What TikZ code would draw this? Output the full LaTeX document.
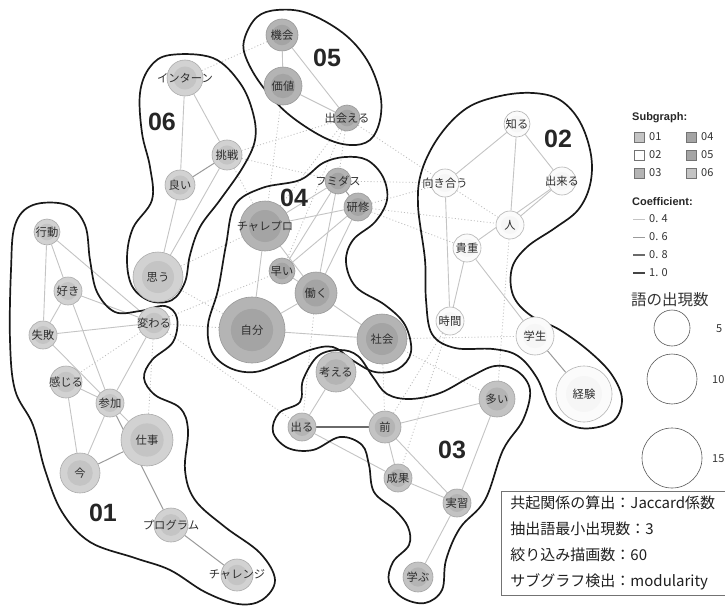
\documentclass[tikz,border=0pt]{standalone}
\usepackage{fontspec}
\setmainfont{Liberation Sans}
\newfontfamily\jp{Noto Sans CJK JP}
\pgfdeclarelayer{bgl}
\pgfdeclarelayer{edges}
\pgfsetlayers{bgl,edges,main}
\definecolor{gAout}{HTML}{D2D2D2}\definecolor{gAin}{HTML}{C4C4C4}\definecolor{gAbd}{HTML}{ABABAB}
\definecolor{gBout}{HTML}{FBFBFB}\definecolor{gBin}{HTML}{F6F6F6}\definecolor{gBbd}{HTML}{B4B4B4}
\definecolor{gCout}{HTML}{C3C3C3}\definecolor{gCin}{HTML}{B4B4B4}\definecolor{gCbd}{HTML}{A3A3A3}
\definecolor{gDout}{HTML}{B4B4B4}\definecolor{gDin}{HTML}{A4A4A4}\definecolor{gDbd}{HTML}{999999}
\definecolor{cA}{HTML}{C4C4C4}\definecolor{cB}{HTML}{9A9A9A}\definecolor{cC}{HTML}{6A6A6A}\definecolor{cD}{HTML}{444444}
\definecolor{dotc}{HTML}{BDBDBD}
\newcommand\WNode[6]{%
  \node[wnode=#5, minimum size={2*#4pt}] (#1) at (#2,#3) {};
  \fill[#5in] (#1.center) circle[radius={0.64*#4pt}];
  \node[lab] (#1-t) at (#1.center) {#6};
}
\tikzset{
  wnode/.style={circle, draw=#1bd, fill=#1out, line width=0.6pt, inner sep=0pt},
  lab/.style={font=\jp\fontsize{11.3}{12}\selectfont, text=black!82, inner sep=0pt},
  eA/.style={draw=cA, line width=0.9pt},
  eB/.style={draw=cB, line width=1.0pt},
  eC/.style={draw=cC, line width=1.4pt},
  dt/.style={draw=dotc, line width=0.8pt, dash pattern=on 1pt off 2.2pt},
  blob/.style={draw=black!90, line width=1.7pt},
  gnum/.style={font=\bfseries\fontsize{25}{25}\selectfont, text=black!85, inner sep=0pt},
  sq/.style={draw=black!55, line width=0.5pt, minimum size=10pt, inner sep=0pt},
  leg/.style={font=\jp\fontsize{11}{11}\selectfont, text=black!80, inner sep=0pt, anchor=west},
  legh/.style={font=\bfseries\fontsize{11}{11}\selectfont, text=black!85, inner sep=0pt, anchor=west},
  szc/.style={circle, draw=black!65, line width=0.6pt, inner sep=0pt},
}
\begin{document}
\begin{tikzpicture}[x=1pt,y=-1pt]
\useasboundingbox (0,0) rectangle (725,607);
\begin{pgfonlayer}{bgl}
\fill[white] (0,0) rectangle (725,607);
\end{pgfonlayer}

% ---------- blobs ----------
\draw[blob] plot[smooth cycle, tension=0.6] coordinates {
 (245,37) (257,17) (277,10) (307,13) (343,33) (367,60) (380,93) (380,120)
 (370,140) (350,145) (323,137) (287,113) (260,83) (245,55)};
\draw[blob] plot[smooth cycle, tension=0.6] coordinates {
 (170,55) (213,58) (240,83) (253,113) (255,140) (243,167) (220,200) (200,227)
 (190,255) (185,282) (172,300) (150,301) (132,286) (127,258) (133,228) (152,200)
 (150,167) (142,133) (140,93) (150,67)};
\draw[blob] plot[smooth cycle, tension=0.6] coordinates {
 (323,163) (345,157) (367,160) (383,177) (387,200) (375,222) (353,240) (346,262)
 (356,287) (385,305) (405,325) (411,352) (398,369) (375,372) (352,360) (333,347)
 (310,350) (283,362) (255,372) (230,368) (212,352) (208,325) (218,290) (226,245)
 (235,205) (262,188) (300,180)};
\draw[blob] plot[smooth cycle, tension=0.6] coordinates {
 (467,108) (500,96) (533,93) (560,100) (580,122) (591,155) (590,185) (578,210)
 (555,228) (527,247) (512,268) (513,295) (530,315) (560,330) (590,352) (612,375)
 (622,400) (612,422) (580,428) (553,412) (537,378) (518,356) (493,349) (455,348)
 (432,334) (426,300) (425,260) (418,205) (422,170) (440,135)};
\draw[blob] plot[smooth cycle, tension=0.6] coordinates {
 (33,205) (67,205) (85,225) (90,260) (97,292) (115,312) (140,311) (165,306)
 (177,318) (173,342) (152,360) (144,378) (155,395) (180,408) (188,430) (185,470)
 (195,500) (225,527) (260,553) (275,580) (262,600) (238,604) (205,592) (170,570)
 (135,558) (90,542) (62,512) (45,470) (33,425) (15,390) (10,340) (11,270) (15,225)};
\draw[blob] plot[smooth cycle, tension=0.6] coordinates {
 (318,356) (340,350) (358,356) (373,377) (387,394) (410,399) (440,393) (470,377)
 (495,366) (517,371) (530,390) (523,420) (503,450) (485,500) (460,528) (446,560)
 (442,590) (425,603) (403,598) (389,582) (393,562) (409,545) (408,527) (395,510)
 (374,492) (369,465) (362,445) (340,437) (313,450) (288,448) (273,432) (279,413)
 (300,402) (303,380)};

% ---------- group numbers ----------
\node[gnum] (n05) at (327,58) {05};
\node[gnum] (n06) at (162,122) {06};
\node[gnum] (n04) at (294,198) {04};
\node[gnum] (n02) at (558,139) {02};
\node[gnum] (n01) at (103,513) {01};
\node[gnum] (n03) at (452,450) {03};

% ---------- nodes ----------
% 05
\WNode{kikai}{282}{35}{16}{gD}{機会}
\WNode{kachi}{283}{86}{19}{gD}{価値}
\WNode{deaeru}{347}{118}{13}{gD}{出会える}
% 06
\WNode{intern}{185}{78}{18}{gA}{インターン}
\WNode{chosen}{227}{155}{15}{gA}{挑戦}
\WNode{yoi}{180}{185}{15}{gA}{良い}
\WNode{omou}{158}{277}{25}{gA}{思う}
% 04
\WNode{fumidas}{338}{181}{13}{gD}{フミダス}
\WNode{kenshu}{358}{207}{14}{gD}{研修}
\WNode{charepro}{265}{226}{25}{gD}{チャレプロ}
\WNode{hayai}{282}{271}{13}{gD}{早い}
\WNode{hataraku}{316}{293}{21}{gD}{働く}
\WNode{jibun}{252}{330}{33}{gD}{自分}
\WNode{shakai}{382}{339}{25}{gD}{社会}
% 02
\WNode{shiru}{517}{124}{13}{gB}{知る}
\WNode{dekiru}{562}{181}{14}{gB}{出来る}
\WNode{mukiau}{445}{183}{14}{gB}{向き合う}
\WNode{hito}{510}{225}{14}{gB}{人}
\WNode{kicho}{467}{248}{14}{gB}{貴重}
\WNode{jikan}{450}{321}{14}{gB}{時間}
\WNode{gakusei}{535}{336}{19}{gB}{学生}
\WNode{keiken}{584}{394}{28}{gB}{経験}
% 01
\WNode{kodo}{47}{232}{13}{gA}{行動}
\WNode{suki}{68}{291}{14}{gA}{好き}
\WNode{shippai}{43}{335}{14}{gA}{失敗}
\WNode{kawaru}{154}{323}{16}{gA}{変わる}
\WNode{kanjiru}{66}{382}{16}{gA}{感じる}
\WNode{sanka}{110}{403}{14}{gA}{参加}
\WNode{shigoto}{147}{440}{26}{gA}{仕事}
\WNode{ima}{80}{473}{20}{gA}{今}
\WNode{program}{171}{525}{17}{gA}{プログラム}
\WNode{challenge}{237}{575}{16}{gA}{チャレンジ}
% 03
\WNode{kangaeru}{336}{372}{20}{gC}{考える}
\WNode{deru}{302}{427}{14}{gC}{出る}
\WNode{mae}{385}{427}{16}{gC}{前}
\WNode{ooi}{497}{399}{18}{gC}{多い}
\WNode{seika}{398}{478}{14}{gC}{成果}
\WNode{jisshu}{457}{503}{14}{gC}{実習}
\WNode{manabu}{418}{577}{15}{gC}{学ぶ}

% ---------- edges ----------
\begin{pgfonlayer}{edges}
% dotted (between subgraphs)
\foreach \a/\b in {intern/kikai, chosen/deaeru, chosen/fumidas, chosen/charepro,
  kachi/charepro, deaeru/charepro, deaeru/hayai, deaeru/fumidas, deaeru/mukiau,
  fumidas/mukiau, kenshu/mukiau, kenshu/kicho, kenshu/hito, mukiau/hito,
  omou/charepro, omou/jibun, kawaru/hayai, kawaru/jibun, kawaru/deru,
  kawaru/shigoto, kawaru/kanjiru, shakai/gakusei, shakai/mae, shakai/ooi,
  hito/ooi, jikan/mae, jikan/seika, hataraku/deru}
  \draw[dt] (\a) -- (\b);
% solid
\foreach \a/\b in {kikai/kachi, kikai/deaeru, kachi/deaeru,
  intern/yoi, intern/chosen, chosen/omou, yoi/omou,
  fumidas/charepro, fumidas/hayai, fumidas/hataraku, kenshu/charepro, kenshu/hayai,
  kenshu/hataraku, charepro/hataraku, hayai/hataraku, charepro/jibun,
  hataraku/jibun, hataraku/shakai, jibun/shakai,
  shiru/mukiau, shiru/hito, shiru/dekiru, dekiru/hito, dekiru/kicho,
  mukiau/jikan, kicho/jikan, kicho/gakusei,
  kodo/suki, kodo/shippai, kodo/kawaru, suki/shippai, suki/kawaru, suki/sanka,
  shippai/kawaru, shippai/sanka, kawaru/sanka, kanjiru/sanka, kanjiru/ima,
  sanka/ima, sanka/shigoto,
  kangaeru/deru, kangaeru/mae, deru/seika, mae/ooi, mae/seika, mae/jisshu,
  seika/jisshu, ooi/jisshu, jisshu/manabu}
  \draw[eA] (\a) -- (\b);
\foreach \a/\b in {chosen/yoi, fumidas/kenshu, gakusei/keiken, sanka/program,
  shigoto/ima, program/challenge}
  \draw[eB] (\a) -- (\b);
\draw[eC] (deru) -- (mae);
\end{pgfonlayer}

% ---------- legend ----------
\node[legh] (lsub) at (632,118) {Subgraph:};
\node[sq, fill=gAin] (s01) at (639,137) {};  \node[leg] (s01t) at (649,137) {01};
\node[sq, fill=white] (s02) at (639,155) {}; \node[leg] (s02t) at (649,155) {02};
\node[sq, fill=gCin] (s03) at (639,173) {};  \node[leg] (s03t) at (649,173) {03};
\node[sq, fill=gDin] (s04) at (691,137) {};  \node[leg] (s04t) at (701,137) {04};
\node[sq, fill=gDin] (s05) at (691,155) {};  \node[leg] (s05t) at (701,155) {05};
\node[sq, fill=gAin] (s06) at (691,173) {};  \node[leg] (s06t) at (701,173) {06};
\node[legh] (lcoef) at (632,202) {Coefficient:};
\coordinate (ca1) at (633,219); \coordinate (ca2) at (645,219);
\coordinate (cb1) at (633,237); \coordinate (cb2) at (645,237);
\coordinate (cc1) at (633,255); \coordinate (cc2) at (645,255);
\coordinate (cd1) at (633,273); \coordinate (cd2) at (645,273);
\draw[eA] (ca1) -- (ca2); \node[leg] (ct1) at (649,219) {0. 4};
\draw[eB] (cb1) -- (cb2); \node[leg] (ct2) at (649,237) {0. 6};
\draw[eC] (cc1) -- (cc2); \node[leg] (ct3) at (649,255) {0. 8};
\draw[draw=cD, line width=1.8pt] (cd1) -- (cd2); \node[leg] (ct4) at (649,273) {1. 0};
\node[leg, font=\jp\fontsize{15.5}{16}\selectfont] (lfreq) at (631,300) {語の出現数};
\node[szc, minimum size=36pt] (f5) at (672,328) {};
\node[szc, minimum size=50pt] (f10) at (672,379) {};
\node[szc, minimum size=60pt] (f15) at (672,458) {};
\node[leg] (f5t) at (716,329) {5};
\node[leg] (f10t) at (712,380) {10};
\node[leg] (f15t) at (712,459) {15};

% ---------- info box ----------
\node[draw=black!55, fill=white, line width=0.6pt, anchor=north west, inner xsep=5pt, inner ysep=5pt,
  align=left, font=\jp\fontsize{15}{26}\selectfont, text=black!88, minimum width=224pt]
  (info) at (500.5,491) {共起関係の算出：Jaccard係数\\抽出語最小出現数：3\\絞り込み描画数：60\\サブグラフ検出：modularity};
\end{tikzpicture}
\end{document}
